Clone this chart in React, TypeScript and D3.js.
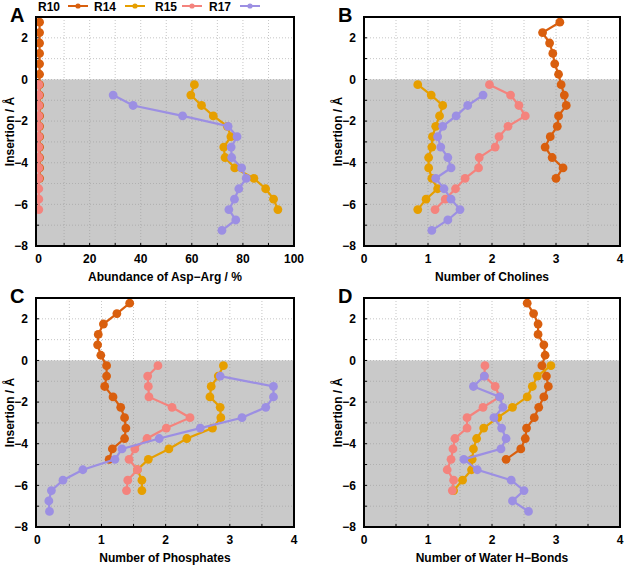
import React from "react";
import * as d3 from "d3";

const seriesNames = ["R10", "R14", "R15", "R17"];
const seriesColors = ["#d95f0e", "#e69f00", "#f4837d", "#9c8fe3"];

const depthR10 = [2.75, 2.25, 1.75, 1.25, 0.75, 0.25, -0.25, -0.75, -1.25, -1.75, -2.25, -2.75, -3.25, -3.75, -4.25, -4.75];
const depthR14 = [-0.25, -0.75, -1.25, -1.75, -2.25, -2.75, -3.25, -3.75, -4.25, -4.75, -5.25, -5.75, -6.25];
const depthR15 = [-0.25, -0.75, -1.25, -1.75, -2.25, -2.75, -3.25, -3.75, -4.25, -4.75, -5.25, -5.75, -6.25];
const depthR17 = [-0.75, -1.25, -1.75, -2.25, -2.75, -3.25, -3.75, -4.25, -4.75, -5.25, -5.75, -6.25, -6.75, -7.25];

// Panel A: Abundance of Asp-Arg / %
const aspR10 = [0.4, 0.4, 0.4, 0.4, 0.4, 0.4, 0.4, 0.4, 0.4, 0.4, 0.4, 0.4, 0.4, 0.4, 0.4, 0.4];
const aspR14 = [61.0, 59.6, 63.8, 68.4, 73.9, 75.3, 72.5, 73.0, 76.8, 84.3, 88.9, 92.0, 93.7];
const aspR15 = [0.1, 0.1, 0.1, 0.1, 0.1, 0.1, 0.1, 0.1, 0.1, 0.1, 0.1, 0.1, 0.1];
const aspR17 = [29.2, 37.0, 56.4, 74.2, 77.7, 75.4, 75.6, 79.5, 81.3, 78.4, 76.7, 74.5, 77.2, 71.8];

// Panel B: Number of Cholines
const cholR10 = [3.06, 2.79, 2.90, 2.95, 2.98, 3.04, 3.08, 3.13, 3.16, 3.04, 3.02, 2.91, 2.83, 2.94, 3.11, 3.00];
const cholR14 = [0.84, 1.05, 1.23, 1.18, 1.12, 1.07, 1.06, 1.01, 1.01, 1.06, 1.15, 0.97, 0.84];
const cholR15 = [1.96, 2.29, 2.42, 2.52, 2.25, 2.11, 2.05, 1.80, 1.79, 1.58, 1.43, 1.27, 1.11];
const cholR17 = [1.86, 1.62, 1.44, 1.23, 1.15, 1.20, 1.31, 1.36, 1.12, 1.25, 1.36, 1.50, 1.31, 1.06];

// Panel C: Number of Phosphates
const phosR10 = [1.44, 1.24, 1.03, 0.95, 0.94, 0.99, 1.08, 1.08, 1.05, 1.18, 1.30, 1.36, 1.38, 1.36, 1.17, 1.12];
const phosR14 = [2.90, 2.82, 2.71, 2.69, 2.85, 2.86, 2.73, 2.33, 2.05, 1.73, 1.56, 1.63, 1.63];
const phosR15 = [1.88, 1.72, 1.73, 1.74, 2.10, 2.38, 2.01, 1.71, 1.52, 1.43, 1.56, 1.41, 1.39];
const phosR17 = [2.85, 3.68, 3.68, 3.56, 3.19, 2.54, 1.90, 1.32, 1.21, 0.71, 0.40, 0.22, 0.18, 0.19];

// Panel D: Number of Water H-Bonds
const waterR10 = [2.55, 2.65, 2.72, 2.72, 2.81, 2.83, 2.78, 2.85, 2.88, 2.81, 2.73, 2.66, 2.54, 2.52, 2.45, 2.22];
const waterR14 = [2.92, 2.71, 2.63, 2.55, 2.32, 2.09, 1.87, 1.76, 1.71, 1.69, 1.68, 1.54, 1.40];
const waterR15 = [1.89, 1.88, 2.05, 2.12, 1.86, 1.61, 1.61, 1.42, 1.39, 1.36, 1.30, 1.40, 1.38];
const waterR17 = [1.88, 1.71, 2.12, 2.17, 2.03, 2.15, 2.22, 2.14, 1.56, 1.77, 2.30, 2.50, 2.32, 2.57];

const yTickLabels = [2, 0, -2, -4, -6, -8];
const yMinorTicks = [-8, -7, -6, -5, -4, -3, -2, -1, 0, 1, 2, 3];
const xTicksA = [0, 20, 40, 60, 80, 100];
const xMinorA = [10, 20, 30, 40, 50, 60, 70, 80, 90];
const xTicksN = [0, 1, 2, 3, 4];
const xMinorN = [0.5, 1, 1.5, 2, 2.5, 3, 3.5];

const depths = [depthR10, depthR14, depthR15, depthR17];

type PanelProps = {
  id: string;
  letter: string;
  left: number;
  right: number;
  top: number;
  bottom: number;
  xDomain: [number, number];
  xTicks: number[];
  xMinor: number[];
  xTitle: string;
  values: number[][];
};

const FONT = "'Liberation Sans', Arial, Helvetica, sans-serif";
const fmt = (v: number) => (v < 0 ? "\u2212" + Math.abs(v) : String(v));

function Panel(p: PanelProps) {
  const x = d3.scaleLinear().domain(p.xDomain).range([p.left, p.right]);
  const y = d3.scaleLinear().domain([-8, 3]).range([p.bottom, p.top]);
  const line = d3
    .line<[number, number]>()
    .x((d) => x(d[0]))
    .y((d) => y(d[1]));
  const clipId = "clip" + p.id;
  const w = p.right - p.left;
  const h = p.bottom - p.top;
  return (
    <g>
      <defs>
        <clipPath id={clipId}>
          <rect x={p.left} y={p.top} width={w} height={h} />
        </clipPath>
      </defs>
      <rect x={p.left} y={y(0)} width={w} height={p.bottom - y(0)} fill="#c9c9c9" />
      {p.xMinor.map((v) => (
        <line key={"gx" + v} x1={x(v)} x2={x(v)} y1={p.top} y2={p.bottom} stroke="#9a9a9a" strokeWidth={0.8} strokeDasharray="1,2" opacity={0.7} />
      ))}
      {yMinorTicks.filter((v) => v > -8 && v < 3).map((v) => (
        <line key={"gy" + v} x1={p.left} x2={p.right} y1={y(v)} y2={y(v)} stroke="#9a9a9a" strokeWidth={0.8} strokeDasharray="1,2" opacity={0.7} />
      ))}
      {p.xMinor.map((v) => (
        <line key={"tx" + v} x1={x(v)} x2={x(v)} y1={p.bottom} y2={p.bottom - 3} stroke="#000" strokeWidth={1} />
      ))}
      {yMinorTicks.map((v) => (
        <line key={"ty" + v} x1={p.left} x2={p.left + 3} y1={y(v)} y2={y(v)} stroke="#000" strokeWidth={1} />
      ))}
      <g clipPath={`url(#${clipId})`}>
        {p.values.map((vals, si) => {
          const pts: [number, number][] = vals.map((v, i) => [v, depths[si][i]]);
          return (
            <g key={"s" + si}>
              <path d={line(pts) || ""} fill="none" stroke={seriesColors[si]} strokeWidth={2.2} />
              {pts.map((d, i) => (
                <circle key={i} cx={x(d[0])} cy={y(d[1])} r={4.4} fill={seriesColors[si]} />
              ))}
            </g>
          );
        })}
      </g>
      <rect x={p.left} y={p.top} width={w} height={h} fill="none" stroke="#000" strokeWidth={2} />
      {yTickLabels.map((v) => (
        <text key={"yl" + v} x={p.left - 8} y={y(v)} dy="0.35em" textAnchor="end" fontSize={12} fontWeight="bold" fontFamily={FONT}>
          {fmt(v)}
        </text>
      ))}
      {p.xTicks.map((v) => (
        <text key={"xl" + v} x={x(v)} y={p.bottom + 17} textAnchor="middle" fontSize={12} fontWeight="bold" fontFamily={FONT}>
          {fmt(v)}
        </text>
      ))}
      <text x={(p.left + p.right) / 2} y={p.bottom + 35} textAnchor="middle" fontSize={12} fontWeight="bold" fontFamily={FONT}>
        {p.xTitle}
      </text>
      <text
        transform={`translate(${p.left - 22},${(p.top + p.bottom) / 2}) rotate(-90)`}
        textAnchor="middle"
        fontSize={12}
        fontWeight="bold"
        fontFamily={FONT}
      >
        Insertion / Å
      </text>
      <text x={p.left - 26} y={p.top + 5} fontSize={20} fontWeight="bold" fontFamily={FONT}>
        {p.letter}
      </text>
    </g>
  );
}

const legendTextX = [38, 94, 155, 209];
const legendLineX = [68, 125, 182, 240];

export default function App() {
  return (
    <svg width={627} height={566} style={{ position: "absolute", left: 0, top: 0, background: "#fff" }}>
      <rect width={627} height={566} fill="#fff" />
      <Panel id="A" letter="A" left={36} right={294} top={17} bottom={246} xDomain={[-1, 100]} xTicks={xTicksA} xMinor={xMinorA} xTitle="Abundance of Asp−Arg / %" values={[aspR10, aspR14, aspR15, aspR17]} />
      <Panel id="B" letter="B" left={364} right={620} top={17} bottom={246} xDomain={[0, 4]} xTicks={xTicksN} xMinor={xMinorN} xTitle="Number of Cholines" values={[cholR10, cholR14, cholR15, cholR17]} />
      <Panel id="C" letter="C" left={36} right={294} top={298} bottom={527} xDomain={[-0.02, 4]} xTicks={xTicksN} xMinor={xMinorN} xTitle="Number of Phosphates" values={[phosR10, phosR14, phosR15, phosR17]} />
      <Panel id="D" letter="D" left={364} right={620} top={298} bottom={527} xDomain={[0, 4]} xTicks={xTicksN} xMinor={xMinorN} xTitle="Number of Water H−Bonds" values={[waterR10, waterR14, waterR15, waterR17]} />
      {seriesNames.map((n, i) => (
        <g key={n}>
          <text x={legendTextX[i]} y={10.5} fontSize={12} fontWeight="bold" fontFamily={FONT}>
            {n}
          </text>
          <line x1={legendLineX[i]} x2={legendLineX[i] + 20} y1={6} y2={6} stroke={seriesColors[i]} strokeWidth={2} />
          <circle cx={legendLineX[i] + 10} cy={6} r={2.6} fill={seriesColors[i]} />
        </g>
      ))}
    </svg>
  );
}
